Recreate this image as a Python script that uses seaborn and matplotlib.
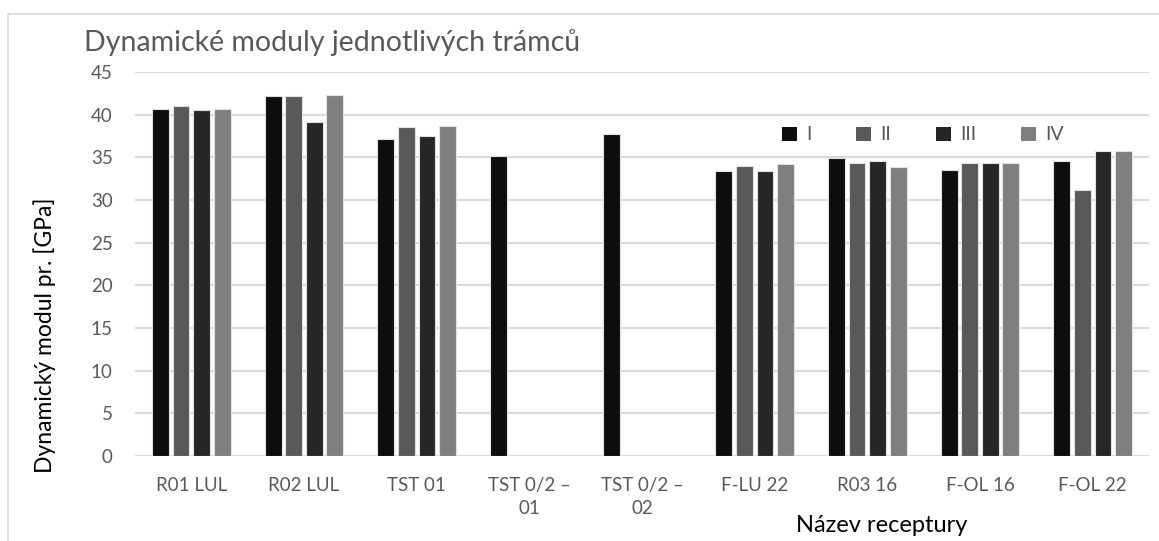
import numpy as np
import pandas as pd
import matplotlib
matplotlib.use("Agg")
import matplotlib.pyplot as plt
import seaborn as sns
from matplotlib.patches import Rectangle

categories = ["R01 LUL", "R02 LUL", "TST 01", "TST 0/2 –\n01", "TST 0/2 –\n02",
              "F-LU 22", "R03 16", "F-OL 16", "F-OL 22"]
series = ["I", "II", "III", "IV"]
vals_I = [40.7, 42.2, 37.1, 35.1, 37.7, 33.4, 34.9, 33.5, 34.6]
vals_II = [41.0, 42.2, 38.5, np.nan, np.nan, 34.0, 34.3, 34.3, 31.2]
vals_III = [40.5, 39.1, 37.5, np.nan, np.nan, 33.4, 34.6, 34.3, 35.7]
vals_IV = [40.7, 42.3, 38.7, np.nan, np.nan, 34.2, 33.9, 34.3, 35.8]
colors = ["#0d0d0d", "#595959", "#262626", "#7f7f7f"]

title = "Dynamické moduly jednotlivých trámců"
ylabel = "Dynamický modul pr. [GPa]"
xlabel = "Název receptury"

rows = []
for s, vals in zip(series, [vals_I, vals_II, vals_III, vals_IV]):
    for c, v in zip(categories, vals):
        rows.append({"cat": c, "ser": s, "val": v})
df = pd.DataFrame(rows)

sns.set_theme(style="white")
plt.rcParams["font.family"] = ["Lato", "DejaVu Sans"]

fig = plt.figure(figsize=(11.59, 5.41), dpi=100)
ax = fig.add_axes([135/1159, 1-456/541, (1149-135)/1159, (456-72)/541])

sns.barplot(data=df, x="cat", y="val", hue="ser", order=categories,
            hue_order=series, palette=colors, width=0.73, gap=0.18,
            edgecolor="#e0e0e0", linewidth=0.8, saturation=1, ax=ax, zorder=3)

ax.set_ylim(0, 45)
ax.set_yticks(np.arange(0, 46, 5))
ax.grid(axis="y", color="#d9d9d9", linewidth=1.5, zorder=0)
ax.set_axisbelow(True)
for sp in ax.spines.values():
    sp.set_visible(False)
ax.tick_params(axis="both", length=0, labelsize=13.5, colors="#595959")
ax.tick_params(axis="x", pad=15)
ax.tick_params(axis="y", pad=16)
for t in ax.get_xticklabels():
    t.set_linespacing(1.45)
ax.set_xlabel("")
ax.set_ylabel("")
fig.text(45/1159, 1-335/541, ylabel, rotation=90, ha="center", va="center",
         fontsize=16.5, color="black")
fig.text(882/1159, 1-526/541, xlabel, ha="center", va="center",
         fontsize=17, color="black")
fig.text(84/1159, 1-43/541, title, ha="left", va="center",
         fontsize=20.5, color="#595959")

leg = ax.legend(loc="center left", bbox_to_anchor=((782-135)/1014, (456-135)/384),
                ncol=4, frameon=False, fontsize=14, handlelength=0.75,
                handleheight=0.75, columnspacing=2.3, handletextpad=0.5,
                borderpad=0, borderaxespad=0, labelcolor="#595959")
for h in leg.legend_handles:
    h.set_edgecolor("none")

fig.patches.append(Rectangle((8/1159, -0.1), 1.2, 1-14/541 + 0.1, transform=fig.transFigure,
                             fill=False, edgecolor="#d9d9d9", linewidth=1.2))

fig.savefig("out.png", dpi=100)
